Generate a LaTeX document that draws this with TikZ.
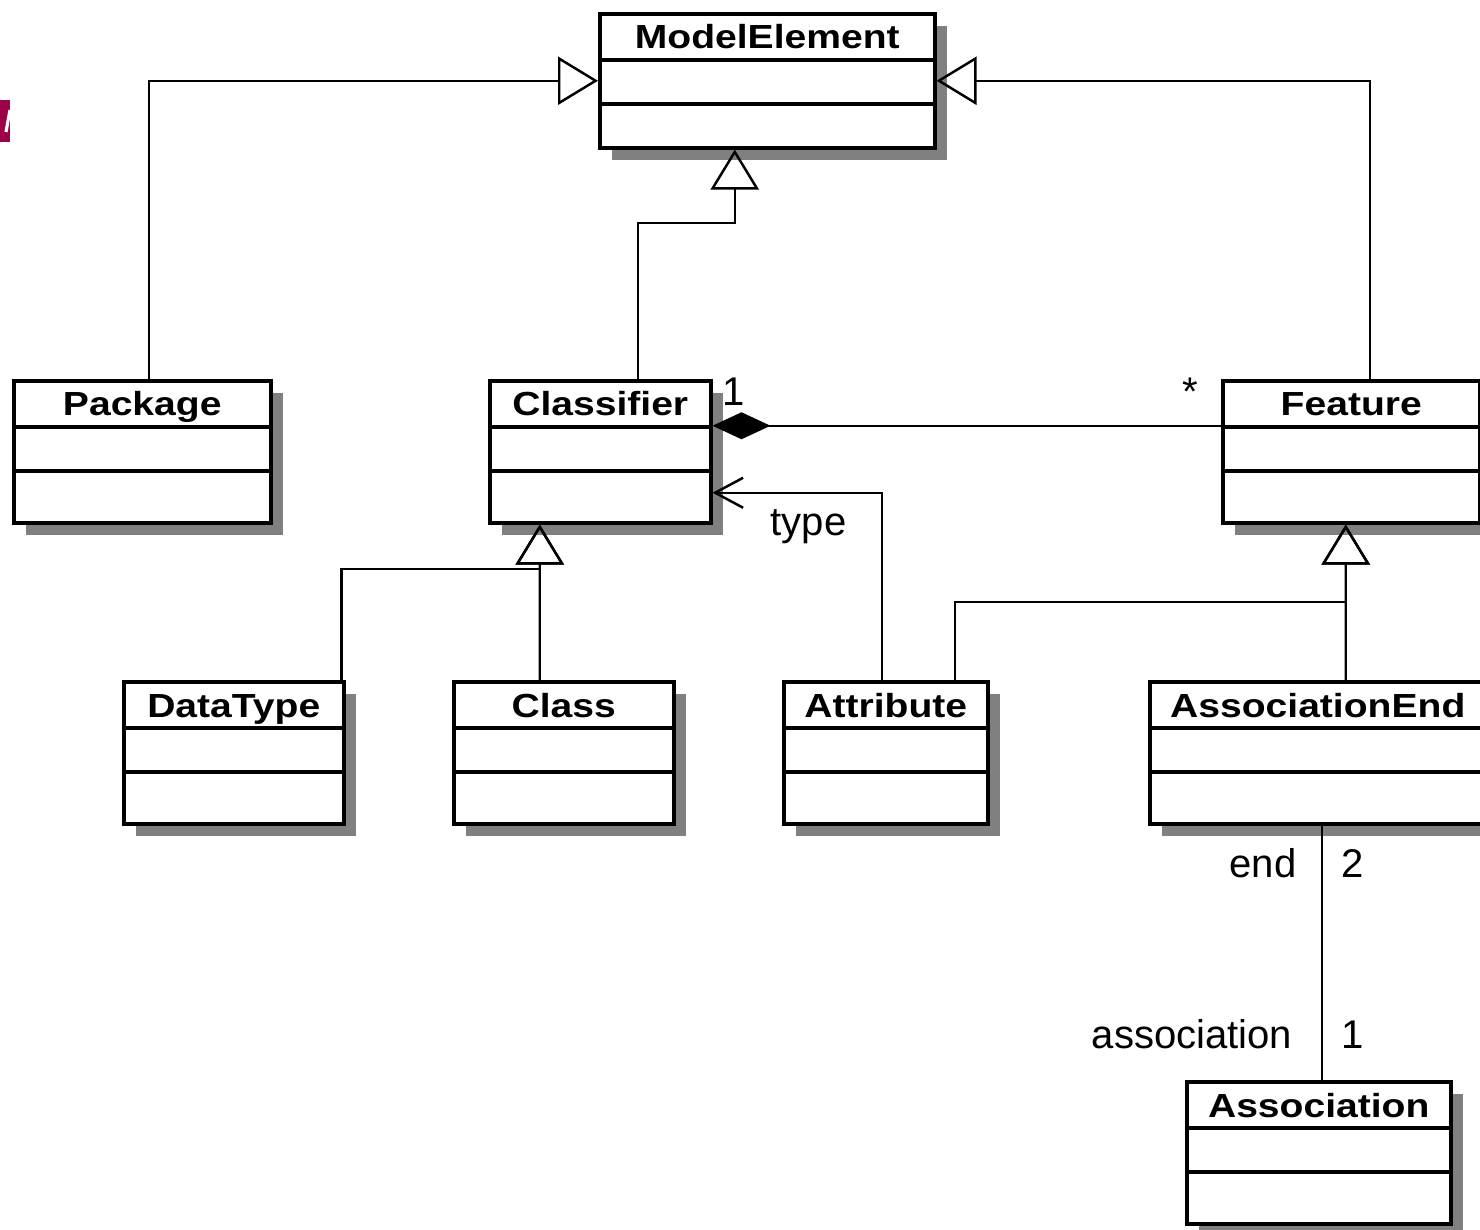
\documentclass[tikz,border=0pt]{standalone}
\usepackage{fontspec}
\usetikzlibrary{arrows.meta,shadows,calc}
\newfontfamily\titlefam[FakeStretch=1.17]{Liberation Sans}
\newfontfamily\labfam{Liberation Sans}
\definecolor{markred}{RGB}{158,0,72}
\definecolor{shadowgray}{RGB}{128,128,128}
\tikzset{
  umlbox/.style={draw, line width=1pt, fill=white, anchor=north west, inner sep=0pt,
    drop shadow={shadow xshift=0.12cm, shadow yshift=-0.12cm, fill=shadowgray, opacity=1}},
  ctitle/.style={font=\titlefam\bfseries\fontsize{9.5pt}{11pt}\selectfont, inner sep=0pt, anchor=base},
  lab/.style={font=\labfam\fontsize{11.4pt}{13pt}\selectfont, inner sep=0pt},
  conn/.style={line width=0.7pt},
  gen/.style={conn, -{Triangle[open, length=0.4cm, width=0.48cm]}},
  comp/.style={conn, {Diamond[length=0.58cm, width=0.27cm]}-},
  nav/.style={conn, -{Straight Barb[length=0.28cm, width=0.3cm]}},
}
\newcommand{\umlclass}[7]{%
  \node[umlbox, minimum width=#4cm, minimum height=#5cm] (#1) at (#2,#3) {};
  \draw[line width=1pt] ([yshift=-0.48cm]#1.north west) -- ([yshift=-0.48cm]#1.north east);
  \draw[line width=1pt] ([yshift=-0.92cm]#1.north west) -- ([yshift=-0.92cm]#1.north east);
  \node[ctitle] (#1t) at ([yshift=-0.37cm,xshift=#7cm]#1.north) {#6};
}
\begin{document}
\begin{tikzpicture}
\useasboundingbox (0,0) rectangle (14.8,-12.3);
% mark at left edge
\fill[markred] (0,-1.00) rectangle (0.10,-1.42);
\draw[white, line width=0.9pt] (0.10,-1.10) -- (0.06,-1.32);
% classes
\umlclass{me}{5.98}{-0.12}{3.35}{1.34}{ModelElement}{0}
\umlclass{pkg}{0.12}{-3.79}{2.57}{1.42}{Package}{0}
\umlclass{clsf}{4.88}{-3.79}{2.21}{1.42}{Classifier}{0}
\umlclass{feat}{12.21}{-3.79}{2.57}{1.42}{Feature}{0}
\umlclass{dt}{1.22}{-6.80}{2.20}{1.42}{DataType}{0}
\umlclass{cls}{4.52}{-6.80}{2.20}{1.42}{Class}{0}
\umlclass{attr}{7.82}{-6.80}{2.04}{1.42}{Attribute}{0}
\umlclass{ae}{11.48}{-6.80}{3.36}{1.42}{AssociationEnd}{0}
\umlclass{assoc}{11.85}{-10.80}{2.64}{1.42}{Association}{0}
% generalizations
\draw[gen] ([xshift=0.065cm]pkg.north) |- (me.west);
\draw[gen] ([xshift=0.185cm]feat.north) |- (me.east);
\draw[gen] ([xshift=0.375cm]clsf.north) -- ++(0,1.56) -| ([xshift=-0.325cm]me.south);
\draw[gen] ([xshift=-0.04cm]dt.north east) -- ++(0,1.11) -| ([xshift=-0.605cm]clsf.south);
\draw[gen] ([xshift=-0.24cm]cls.north) -- ([xshift=-0.605cm]clsf.south);
\draw[gen] ([xshift=0.69cm]attr.north) -- ++(0,0.78) -| ([xshift=-0.055cm]feat.south);
\draw[gen] ([xshift=0.28cm]ae.north) -- ([xshift=-0.055cm]feat.south);
% composition
\draw[comp] ([yshift=0.26cm]clsf.east) -- ([yshift=0.26cm]feat.west);
\node[lab, anchor=base] (m1) at (7.34,-4.05) {1};
\node[lab, anchor=base] (mstar) at (11.90,-4.06) {*};
% type association
\draw[nav] ([xshift=-0.04cm]attr.north) |- ([yshift=-0.41cm]clsf.east);
\node[lab, anchor=base west] (ltype) at (7.70,-5.35) {type};
% association end
\draw[conn] ([xshift=0.04cm]ae.south) -- ([xshift=0.04cm]ae.south |- assoc.north);
\node[lab, anchor=base east] (lend) at (12.97,-8.77) {end};
\node[lab, anchor=base west] (l2) at (13.41,-8.77) {2};
\node[lab, anchor=base east] (lassoc) at (12.93,-10.48) {association};
\node[lab, anchor=base west] (l1) at (13.41,-10.48) {1};
\end{tikzpicture}
\end{document}
